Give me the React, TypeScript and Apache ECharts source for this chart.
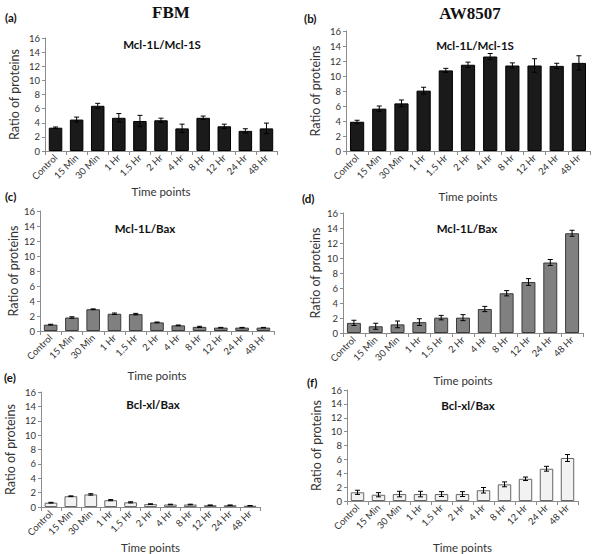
import React, { useEffect, useRef } from "react";
import * as echarts from "echarts";

const categories = ["Control", "15 Min", "30 Min", "1 Hr", "1.5 Hr", "2 Hr", "4 Hr", "8 Hr", "12 Hr", "24 Hr", "48 Hr"];
const yMin = 0;
const yMax = 16;
const yStep = 2;

const fbmMcl1S = [3.3, 4.45, 6.4, 4.7, 4.25, 4.35, 3.2, 4.7, 3.5, 2.85, 3.2];
const fbmMcl1SErr = [0.1, 0.35, 0.35, 0.6, 0.8, 0.3, 0.6, 0.25, 0.3, 0.3, 0.75];
const awMcl1S = [3.9, 5.65, 6.35, 8.05, 10.75, 11.5, 12.6, 11.4, 11.4, 11.35, 11.75];
const awMcl1SErr = [0.2, 0.35, 0.45, 0.45, 0.27, 0.35, 0.4, 0.35, 0.9, 0.35, 0.95];
const fbmBax = [0.85, 1.8, 2.9, 2.3, 2.25, 1.15, 0.75, 0.55, 0.45, 0.45, 0.45];
const fbmBaxErr = [0.05, 0.1, 0.05, 0.1, 0.1, 0.05, 0.05, 0.08, 0.03, 0.03, 0.03];
const awBax = [1.35, 0.9, 1.15, 1.45, 2.05, 2.05, 3.2, 5.3, 6.8, 9.4, 13.3];
const awBaxErr = [0.35, 0.4, 0.45, 0.45, 0.3, 0.4, 0.35, 0.35, 0.45, 0.4, 0.4];
const fbmBcl = [0.6, 1.5, 1.75, 0.95, 0.65, 0.4, 0.35, 0.35, 0.25, 0.25, 0.18];
const fbmBclErr = [0.05, 0.05, 0.1, 0.08, 0.08, 0.05, 0.04, 0.04, 0.03, 0.03, 0.03];
const awBcl = [1.25, 0.9, 1.0, 1.0, 1.0, 1.0, 1.55, 2.4, 3.2, 4.65, 6.2];
const awBclErr = [0.3, 0.3, 0.4, 0.4, 0.35, 0.35, 0.4, 0.35, 0.25, 0.35, 0.5];

const columnHeadings = ["FBM", "AW8507"];
const panelLetters = ["(a)", "(b)", "(c)", "(d)", "(e)", "(f)"];
const panelTitles = ["Mcl-1L/Mcl-1S", "Mcl-1L/Mcl-1S", "Mcl-1L/Bax", "Mcl-1L/Bax", "Bcl-xl/Bax", "Bcl-xl/Bax"];
const yAxisName = "Ratio of proteins";
const xAxisName = "Time points";

const panelValues = [fbmMcl1S, awMcl1S, fbmBax, awBax, fbmBcl, awBcl];
const panelErrors = [fbmMcl1SErr, awMcl1SErr, fbmBaxErr, awBaxErr, fbmBclErr, awBclErr];

// layout: [left, top(16), right, bottom(0)]
const layout = [
  { l: 45, t: 38, r: 277, b: 151, title: [162, 44], letter: [5, 17], yName: 24, xName: 34 },
  { l: 346, t: 31, r: 590, b: 151, title: [475, 45], letter: [304, 18], yName: 24, xName: 39 },
  { l: 40, t: 211, r: 274, b: 331, title: [145, 228], letter: [5, 196], yName: 20, xName: 38 },
  { l: 343, t: 213, r: 583, b: 333, title: [467, 228], letter: [302, 198], yName: 21, xName: 41 },
  { l: 41, t: 392, r: 260, b: 510, title: [153, 404], letter: [4, 377], yName: 24, xName: 34 },
  { l: 347, t: 390, r: 578, b: 508, title: [468, 405], letter: [307, 382], yName: 24, xName: 40 },
];
const barStyles = [
  { fill: "#1a1a1a", stroke: "#000000" },
  { fill: "#1a1a1a", stroke: "#000000" },
  { fill: "#808080", stroke: "#3a3a3a" },
  { fill: "#808080", stroke: "#3a3a3a" },
  { fill: "#f2f2f2", stroke: "#666666" },
  { fill: "#f2f2f2", stroke: "#666666" },
];

const FONT = "Lato, 'Open Sans', sans-serif";

export default function App() {
  const ref = useRef<HTMLDivElement>(null);
  useEffect(() => {
    if (!ref.current) return;
    const chart = echarts.init(ref.current, undefined, { renderer: "svg" });
    const grids: any[] = [];
    const xAxes: any[] = [];
    const yAxes: any[] = [];
    const series: any[] = [];
    const graphics: any[] = [];

    layout.forEach((p, i) => {
      grids.push({ left: p.l, top: p.t, width: p.r - p.l, height: p.b - p.t, containLabel: false });
      xAxes.push({
        type: "category",
        gridIndex: i,
        data: categories,
        name: xAxisName,
        nameLocation: "middle",
        nameGap: p.xName,
        nameTextStyle: { fontFamily: FONT, fontSize: 11.5, color: "#333" },
        axisLine: { lineStyle: { color: "#8c8c8c", width: 1 } },
        axisTick: { show: true, alignWithLabel: false, length: 4, lineStyle: { color: "#8c8c8c" } },
        axisLabel: { interval: 0, rotate: 45, fontFamily: FONT, fontSize: 9.5, color: "#333", margin: 5 },
        splitLine: { show: false },
      });
      yAxes.push({
        type: "value",
        gridIndex: i,
        min: yMin,
        max: yMax,
        interval: yStep,
        name: yAxisName,
        nameLocation: "middle",
        nameGap: p.yName,
        nameRotate: 90,
        nameTextStyle: { fontFamily: FONT, fontSize: 12.5, color: "#333" },
        axisLine: { show: true, lineStyle: { color: "#8c8c8c", width: 1 } },
        axisTick: { show: true, length: 3, lineStyle: { color: "#8c8c8c" } },
        axisLabel: { fontFamily: FONT, fontSize: 9.5, color: "#333", margin: 5 },
        splitLine: { show: false },
      });
      const vals = panelValues[i];
      const errs = panelErrors[i];
      series.push({
        type: "bar",
        xAxisIndex: i,
        yAxisIndex: i,
        data: vals,
        barCategoryGap: "36%",
        itemStyle: { color: barStyles[i].fill, borderColor: barStyles[i].stroke, borderWidth: 1 },
        z: 2,
      });
      series.push({
        type: "custom",
        xAxisIndex: i,
        yAxisIndex: i,
        z: 3,
        encode: { x: 0, y: 1 },
        data: vals.map((v, k) => [k, v, errs[k]]),
        renderItem: (params: any, api: any) => {
          const x = api.value(0);
          const v = api.value(1);
          const e = api.value(2);
          const top = api.coord([x, v + e]);
          const bot = api.coord([x, Math.max(v - e, 0)]);
          const w = 2.5;
          const st = { stroke: "#000", lineWidth: 1 };
          return {
            type: "group",
            children: [
              { type: "line", shape: { x1: top[0], y1: top[1], x2: bot[0], y2: bot[1] }, style: st },
              { type: "line", shape: { x1: top[0] - w, y1: top[1], x2: top[0] + w, y2: top[1] }, style: st },
              { type: "line", shape: { x1: bot[0] - w, y1: bot[1], x2: bot[0] + w, y2: bot[1] }, style: st },
            ],
          };
        },
      });
      graphics.push({
        type: "text",
        x: p.title[0],
        y: p.title[1],
        style: {
          text: panelTitles[i],
          font: `bold 11.5px ${FONT}`,
          fill: "#111",
          textAlign: "center",
          textVerticalAlign: "middle",
          align: "center",
          verticalAlign: "middle",
        },
      });
      graphics.push({
        type: "text",
        x: p.letter[0],
        y: p.letter[1],
        style: {
          text: panelLetters[i],
          font: `bold 11.5px ${FONT}`,
          fill: "#111",
          textAlign: "left",
          textVerticalAlign: "middle",
          align: "left",
          verticalAlign: "middle",
        },
      });
    });

    graphics.push({
      type: "text",
      x: 171,
      y: 12,
      style: {
        text: columnHeadings[0],
        font: "bold 17px 'Liberation Serif', 'DejaVu Serif', serif",
        fill: "#111",
        textAlign: "center",
        textVerticalAlign: "middle",
        align: "center",
        verticalAlign: "middle",
      },
    });
    graphics.push({
      type: "text",
      x: 470,
      y: 13,
      style: {
        text: columnHeadings[1],
        font: "bold 17px 'Liberation Serif', 'DejaVu Serif', serif",
        fill: "#111",
        textAlign: "center",
        textVerticalAlign: "middle",
        align: "center",
        verticalAlign: "middle",
      },
    });

    chart.setOption({
      animation: false,
      backgroundColor: "#ffffff",
      grid: grids,
      xAxis: xAxes,
      yAxis: yAxes,
      series,
      graphic: graphics,
    });
    return () => chart.dispose();
  }, []);
  return <div ref={ref} style={{ position: "absolute", left: 0, top: 0, width: 600, height: 554 }} />;
}
